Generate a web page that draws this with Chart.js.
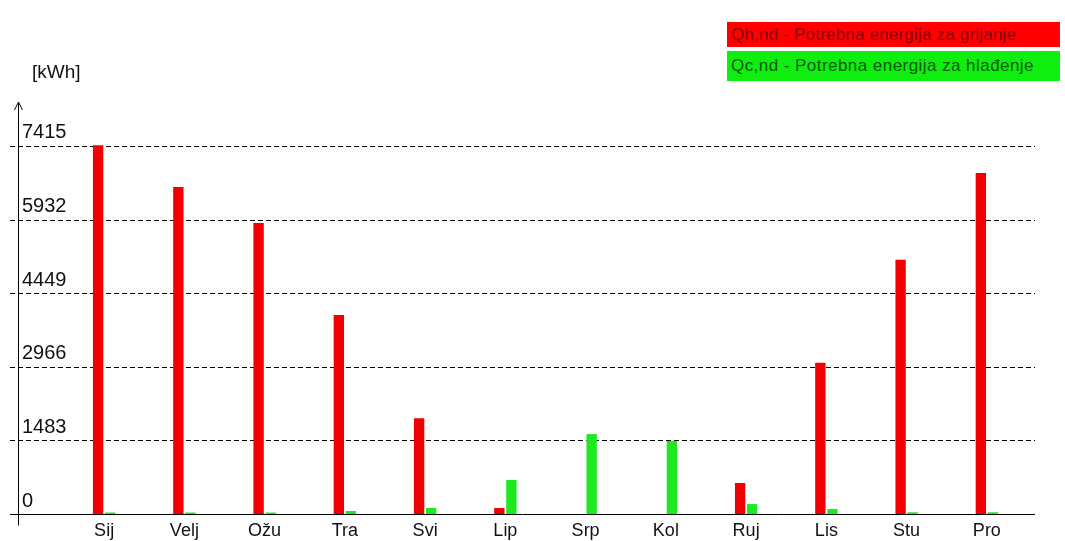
<!DOCTYPE html>
<html>
<head>
<meta charset="utf-8">
<script src="https://cdn.jsdelivr.net/npm/chart.js@4"></script>
<style>
  html, body { margin:0; padding:0; background:#fff; }
  #wrap { position:relative; width:1065px; height:541px; }
  #chart { position:absolute; left:0; top:0; }
  .unit { position:absolute; left:32px; top:61px; font:19px "Liberation Sans", Arial, sans-serif; color:#111; }
  .key { position:absolute; left:727px; width:333px; height:25px; font:17px "Liberation Sans", Arial, sans-serif;
         line-height:25px; padding-left:4px; box-sizing:border-box; white-space:nowrap; letter-spacing:0.45px; }
  .k1 { top:22px; background:#ff0000; color:#8a0000; letter-spacing:0.2px; }
  .k2 { top:51px; height:30px; line-height:30px; background:#10ee10; color:#075a07; }
</style>
</head>
<body>
<div id="wrap">
  <canvas id="chart" width="1065" height="541"></canvas>
  <div class="unit">[kWh]</div>
  <div class="key k1">Qh,nd - Potrebna energija za grijanje</div>
  <div class="key k2">Qc,nd - Potrebna energija za hlađenje</div>
</div>
<script>
// months
const months = ['Sij','Velj','Ožu','Tra','Svi','Lip','Srp','Kol','Ruj','Lis','Stu','Pro'];
// heating / cooling need per month, kWh
const heating = [7430, 6590, 5860, 4010, 1930, 120, 0, 0, 625, 3045, 5120, 6870];
const cooling = [30, 30, 30, 60, 120, 685, 1610, 1470, 200, 100, 35, 35];
// y axis marks
const yTicks = [0, 1483, 2966, 4449, 5932, 7415];

const el = (id)=>document.getElementById(id);

// dashed guide lines + hand drawn axes with arrow
const axesPlugin = {
  id: 'axes',
  beforeDatasetsDraw(chart){
    const ctx = chart.ctx, y = chart.scales.y;
    ctx.save();
    ctx.strokeStyle = '#000';
    ctx.lineWidth = 1;
    ctx.setLineDash([5,3]);
    yTicks.forEach(v=>{
      if (v === 0) return;
      const py = Math.round(y.getPixelForValue(v)) + 0.5;
      ctx.beginPath(); ctx.moveTo(10, py); ctx.lineTo(1035, py); ctx.stroke();
    });
    ctx.restore();
  },
  afterDatasetsDraw(chart){
    const ctx = chart.ctx, y = chart.scales.y;
    const base = Math.round(y.getPixelForValue(0)) + 0.5;
    const top = chart.chartArea.top;
    ctx.save();
    ctx.strokeStyle = '#000';
    ctx.lineWidth = 1;
    ctx.beginPath();
    ctx.moveTo(10, base); ctx.lineTo(1035, base);
    ctx.moveTo(18.5, top); ctx.lineTo(18.5, base + 11);
    ctx.moveTo(14.5, top + 8); ctx.lineTo(18.5, top); ctx.lineTo(22.5, top + 8);
    ctx.stroke();
    ctx.restore();
  }
};

new Chart(el('chart'), {
  type: 'bar',
  data: {
    labels: months,
    datasets: [
      { label: 'Qh,nd', data: heating, backgroundColor: '#f00000', barPercentage: 0.86, categoryPercentage: 0.3 },
      { label: 'Qc,nd', data: cooling, backgroundColor: '#20e820', barPercentage: 0.86, categoryPercentage: 0.3 }
    ]
  },
  options: {
    responsive: false,
    animation: false,
    layout: { padding: { left: 22, right: 38, top: 102, bottom: 0 } },
    plugins: { legend: { display: false }, tooltip: { enabled: false } },
    scales: {
      x: {
        grid: { display: false, drawTicks: false },
        border: { display: false },
        ticks: { color: '#111', padding: 6, font: { family: 'Liberation Sans', size: 18 } },
        afterFit: (s)=>{ s.height = 27; }
      },
      y: {
        min: 0, max: 8300,
        grid: { display: false, drawTicks: false },
        border: { display: false },
        afterBuildTicks: (s)=>{ s.ticks = yTicks.map(v=>({ value: v })); },
        afterFit: (s)=>{ s.width = 42; },
        // mirrored so the labels are not clipped to the narrow axis box
        ticks: {
          color: '#111', mirror: true, padding: -42, labelOffset: -13,
          font: { family: 'Liberation Sans', size: 20 },
          callback: (v)=>String(v)
        }
      }
    }
  },
  plugins: [axesPlugin]
});
</script>
</body>
</html>
